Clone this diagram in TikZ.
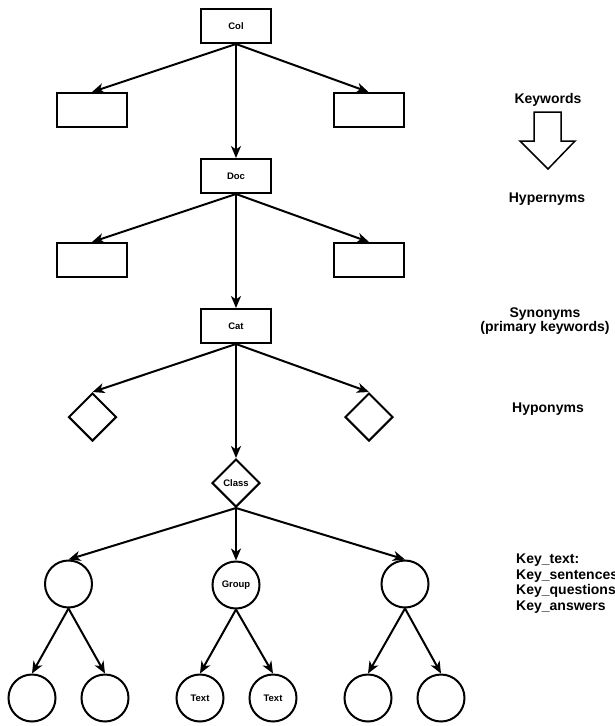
\documentclass[tikz,border=0pt]{standalone}
\usepackage{fontspec}
\setmainfont{Liberation Sans}
\usetikzlibrary{shapes.geometric,arrows.meta}
\begin{document}
\begin{tikzpicture}[x=1pt,y=-1pt,
  every node/.style={font=\fontsize{9.5}{11}\selectfont\bfseries},
  rbox/.style={draw,line width=2pt,minimum width=70pt,minimum height=34pt,inner sep=0pt},
  dia/.style={draw,diamond,aspect=1,line width=2pt,minimum width=48pt,minimum height=48pt,inner sep=0pt},
  circ/.style={draw,circle,line width=2pt,minimum size=47pt,inner sep=0pt},
  conn/.style={line width=2pt,-{Stealth[length=12pt,width=10pt,inset=3.5pt]}},
  lab/.style={font=\fontsize{14}{15.5}\selectfont\bfseries,align=center,inner sep=0pt}]
\useasboundingbox (0,0) rectangle (615,726);
% boxes
\node[rbox] (col) at (236,26) {Col};
\node[rbox] (lb1) at (92,110) {};
\node[rbox] (rb1) at (368.5,110) {};
\node[rbox] (doc) at (236,176) {Doc};
\node[rbox] (lb2) at (92,260) {};
\node[rbox] (rb2) at (369,260) {};
\node[rbox] (cat) at (236,326) {Cat};
% diamonds
\node[dia] (ld) at (92.5,417) {};
\node[dia] (rd) at (369,417) {};
\node[dia] (cls) at (236,483) {Class};
% circles
\node[circ] (c1) at (68.5,584) {};
\node[circ] (grp) at (236,585) {Group};
\node[circ] (c3) at (405,584) {};
\node[circ] (l1) at (32,698) {};
\node[circ] (l2) at (105,698) {};
\node[circ] (t1) at (200,698) {Text};
\node[circ] (t2) at (273,698) {Text};
\node[circ] (l5) at (368,698) {};
\node[circ] (l6) at (441,698) {};
% connectors
\draw[conn] (col.south) -- (lb1.north);
\draw[conn] (col.south) -- (rb1.north);
\draw[conn] (col.south) -- (doc.north);
\draw[conn] (doc.south) -- (lb2.north);
\draw[conn] (doc.south) -- (rb2.north);
\draw[conn] (doc.south) -- (cat.north);
\draw[conn] (cat.south) -- (ld.north);
\draw[conn] (cat.south) -- (rd.north);
\draw[conn] (cat.south) -- (cls.north);
\draw[conn] (cls.south) -- (c1.north);
\draw[conn] (cls.south) -- (grp.north);
\draw[conn] (cls.south) -- (c3.north);
\draw[conn] (c1.south) -- (l1.north);
\draw[conn] (c1.south) -- (l2.north);
\draw[conn] (grp.south) -- (t1.north);
\draw[conn] (grp.south) -- (t2.north);
\draw[conn] (c3.south) -- (l5.north);
\draw[conn] (c3.south) -- (l6.north);
% right-hand labels
\node[lab] (kw) at (548,100) {Keywords};
\draw[line width=1.5pt,line join=miter] (534,112) -- (561,112) -- (561,141) -- (575,141) -- (548,169) -- (520,141) -- (534,141) -- cycle;
\node[lab] (hyper) at (547,199) {Hypernyms};
\node[lab] (syn) at (545,321) {Synonyms\\[-2pt](primary keywords)};
\node[lab] (hypo) at (548,409) {Hyponyms};
\node[lab,align=left,anchor=north west] (key) at (516,554) {Key\_text:\\Key\_sentences\\Key\_questions\\Key\_answers};
\end{tikzpicture}
\end{document}
